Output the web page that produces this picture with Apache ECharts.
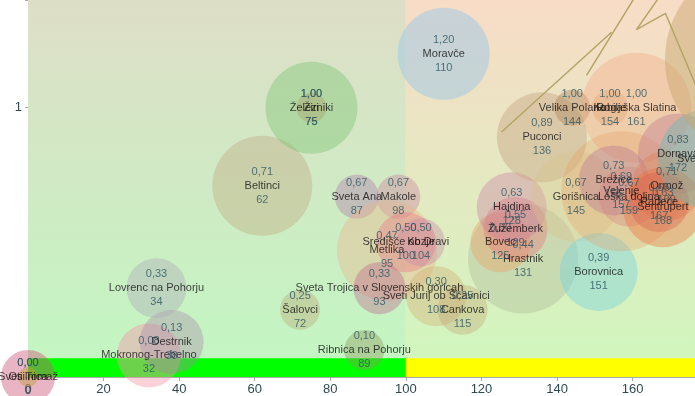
<!DOCTYPE html>
<html>
<head>
<meta charset="utf-8">
<script src="https://cdn.jsdelivr.net/npm/echarts@6/dist/echarts.min.js"></script>
<style>
  html, body { margin: 0; padding: 0; background: #fff; }
  #main { width: 695px; height: 396px; }
</style>
</head>
<body>
<div id="main"></div>
<script>
var chartDom = document.getElementById('main');
var myChart = echarts.init(chartDom);
var option;

// municipalities: name, x (third label), y (first label), bubble size
var names = ['Sveti Tomaž', 'Osilnica', 'Mokronog-Trebelno', 'Destrnik', 'Lovrenc na Pohorju',
  'Beltinci', 'Šalovci', 'Železniki', 'Žiri', 'Sveta Ana', 'Makole', 'Metlika',
  'Ribnica na Pohorju', 'Sveta Trojica v Slovenskih goricah', 'Središče ob Dravi', 'Kozje',
  'Sveti Jurij ob Ščavnici', 'Cankova', 'Moravče', 'Hrastnik', 'Bovec', 'Žužemberk', 'Hajdina',
  'Puconci', 'Velika Polana', 'Kobilje', 'Rogaška Slatina', 'Gorišnica', 'Borovnica',
  'Velenje', 'Brežice', 'Loška dolina', 'Dornava', 'Ormož', 'Radeče', 'Šentrupert',
  'Sveti Andraž', 'Trzin'];
var xValues = [0, 0, 32, 38, 34, 62, 72, 75, 75, 87, 98, 95, 89, 93, 100, 104, 108, 115, 110,
  131, 125, 129, 128, 136, 144, 154, 161, 145, 151, 157, 155, 159, 172, 169, 167, 168, 180, 195];
var yValues = [0.00, 0.00, 0.08, 0.13, 0.33, 0.71, 0.25, 1.00, 1.00, 0.67, 0.67, 0.47, 0.10, 0.33,
  0.50, 0.50, 0.30, 0.25, 1.20, 0.44, 0.50, 0.55, 0.63, 0.89, 1.00, 1.00, 1.00, 0.67, 0.39,
  0.69, 0.73, 0.67, 0.83, 0.71, 0.65, 0.63, 0.81, 1.18];
var bubbleSize = [27, 10, 32, 32, 30, 50, 20, 46, 15, 22, 22, 50, 20, 26, 30, 24, 30, 25, 46,
  55, 30, 32, 35, 45, 18, 18, 55, 45, 39, 60, 35, 30, 40, 35, 30, 40, 50, 100];

var colors = ['rgba(205,85,120,0.55)', 'rgba(190,160,60,0.55)', 'rgba(245,150,170,0.55)',
  'rgba(170,130,170,0.45)', 'rgba(175,175,185,0.55)', 'rgba(195,180,140,0.6)',
  'rgba(190,180,130,0.6)', 'rgba(120,195,110,0.5)', 'rgba(170,165,110,0.55)',
  'rgba(180,140,175,0.6)', 'rgba(205,140,165,0.55)', 'rgba(235,180,140,0.5)',
  'rgba(140,150,90,0.5)', 'rgba(190,90,140,0.45)', 'rgba(235,110,130,0.45)',
  'rgba(200,140,170,0.5)', 'rgba(210,175,120,0.5)', 'rgba(195,170,120,0.5)',
  'rgba(160,200,230,0.65)', 'rgba(170,180,150,0.45)', 'rgba(235,160,100,0.5)',
  'rgba(230,110,120,0.45)', 'rgba(200,120,160,0.45)', 'rgba(200,170,135,0.6)',
  'rgba(175,135,95,0.55)', 'rgba(215,170,120,0.55)', 'rgba(245,170,135,0.5)',
  'rgba(215,195,140,0.45)', 'rgba(120,210,220,0.55)', 'rgba(230,160,100,0.4)',
  'rgba(180,110,150,0.45)', 'rgba(210,130,130,0.45)', 'rgba(190,120,145,0.5)',
  'rgba(225,125,80,0.45)', 'rgba(200,80,90,0.45)', 'rgba(235,115,60,0.5)',
  'rgba(100,185,180,0.5)', 'rgba(200,165,110,0.6)'];

// olive zigzag line in the upper right
var trendLine = [[125.3, 0.91], [154.4, 1.28], ['-', '-'], [147.8, 1.12], [163.2, 1.47],
  ['-', '-'], [168.5, 1.44], [161.0, 1.29], [168.7, 1.35], [177.7, 1.05]];

var xTicks = [0, 20, 40, 60, 80, 100, 120, 140, 160];
var xSplit = 100;
var xMax = 176.5;
var yMax = 1.4;
var barTop = 0.07;

function fmt(v) {
  return v.toFixed(2).replace('.', ',');
}

var bubbles = names.map(function (n, i) {
  return {
    name: n,
    value: [xValues[i], yValues[i], bubbleSize[i]],
    itemStyle: { color: colors[i] }
  };
});

function grad(top, bottom) {
  return new echarts.graphic.LinearGradient(0, 0, 0, 1, [
    { offset: 0, color: top },
    { offset: 1, color: bottom }
  ]);
}

option = {
  animation: false,
  textStyle: { fontFamily: 'Liberation Sans' },
  grid: { left: 28, right: 0, top: 0, bottom: 17 },
  xAxis: {
    type: 'value',
    min: 0,
    max: xMax,
    interval: 20,
    splitLine: { show: false },
    axisLine: { lineStyle: { color: '#aaaaaa' } },
    axisTick: { show: true, length: 4, lineStyle: { color: '#aaaaaa' },
      customValues: xTicks },
    axisLabel: { color: '#2e4a52', fontSize: 13, margin: 6, customValues: xTicks }
  },
  yAxis: {
    type: 'value',
    min: 0,
    max: yMax,
    interval: 1,
    axisLine: { show: true, lineStyle: { color: '#aaaaaa' } },
    axisTick: { show: true, length: 3, lineStyle: { color: '#aaaaaa' } },
    splitLine: { show: true, lineStyle: { color: '#999999', type: 'dotted' } },
    axisLabel: { color: '#2e4a52', fontSize: 13, margin: 6,
      formatter: function (v) { return v === 1 ? '1' : ''; } }
  },
  series: [{
    type: 'line',
    data: [],
    z: 0,
    silent: true,
    markArea: {
      silent: true,
      data: [
        [{ xAxis: 0, yAxis: 0, itemStyle: { color: grad('#dedec7', '#c2f7c2') } },
          { xAxis: xSplit, yAxis: yMax }],
        [{ xAxis: xSplit, yAxis: 0, itemStyle: { color: grad('#f8dcc6', '#cff7bd') } },
          { xAxis: xMax, yAxis: yMax }],
        [{ xAxis: 0, yAxis: 0, itemStyle: { color: '#00ff00' } },
          { xAxis: xSplit, yAxis: barTop }],
        [{ xAxis: xSplit, yAxis: 0, itemStyle: { color: '#ffff00' } },
          { xAxis: xMax, yAxis: barTop }]
      ]
    }
  }, {
    type: 'scatter',
    z: 3,
    clip: false,
    data: bubbles,
    symbolSize: function (v) { return v[2] * 2; },
    emphasis: { disabled: true },
    label: {
      show: true,
      position: 'inside',
      formatter: function (p) {
        return '{v|' + fmt(p.value[1]) + '}\n{n|' + p.name + '}\n{v|' + p.value[0] + '}';
      },
      rich: {
        v: { color: '#2d5663', fontSize: 11, lineHeight: 14, fontFamily: 'Liberation Sans' },
        n: { color: '#111111', fontSize: 11, lineHeight: 14, fontFamily: 'Liberation Sans' }
      }
    }
  }, {
    type: 'line',
    z: 4,
    data: trendLine,
    showSymbol: false,
    connectNulls: false,
    silent: true,
    lineStyle: { color: '#b3a568', width: 1.5 }
  }]
};

option && myChart.setOption(option);
</script>
</body>
</html>
